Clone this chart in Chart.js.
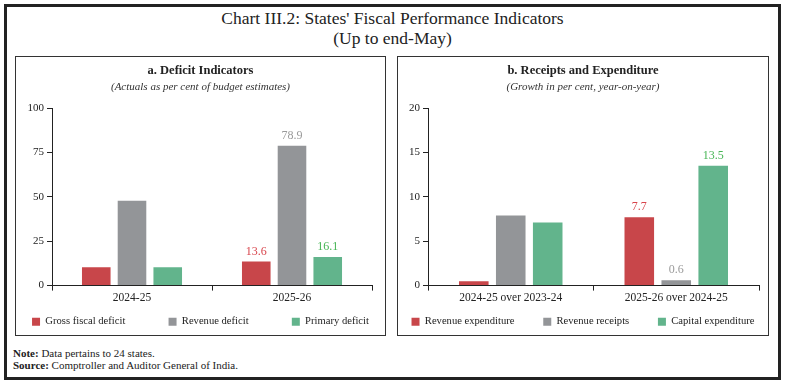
<!DOCTYPE html>
<html>
<head>
<meta charset="utf-8">
<script src="https://cdn.jsdelivr.net/npm/chart.js@4.4.0/dist/chart.umd.min.js"></script>
<style>
    body { margin: 0; background: #fff; font-family: 'Liberation Serif', serif; color: #222; }
    #frame { position: absolute; left: 4px; top: 4px; width: 771px; height: 370px; border: 3px solid #222; }
    #title { position: absolute; left: 0; top: 8px; width: 785px; text-align: center; font-size: 17.5px; line-height: 20px; }
    .panel { position: absolute; top: 56px; width: 369px; height: 278px; border: 1px solid #333; }
    #panelA { left: 15px; }
    #panelB { left: 397px; width: 370px; }
    .panel canvas { display: block; }
    #notes { position: absolute; left: 13px; top: 347px; font-size: 11px; line-height: 12px; }
</style>
</head>
<body>
<div id="frame"></div>
<div id="title">Chart III.2: States' Fiscal Performance Indicators<br>(Up to end-May)</div>
<div class="panel" id="panelA"><canvas id="deficitChart"></canvas></div>
<div class="panel" id="panelB"><canvas id="receiptsChart"></canvas></div>
<div id="notes"><b>Note:</b> Data pertains to 24 states.<br><b>Source:</b> Comptroller and Auditor General of India.</div>

<script>
// Panel a: deficit indicators (actuals as per cent of BE)
const deficitYears = ['2024-25', '2025-26'];
const grossFiscalDeficit = [10.3, 13.6];
const revenueDeficit = [47.8, 78.9];
const primaryDeficit = [10.3, 16.1];

// Panel b: receipts and expenditure (growth, y-o-y)
const growthPeriods = ['2024-25 over 2023-24', '2025-26 over 2024-25'];
const revenueExpenditure = [0.5, 7.7];
const revenueReceipts = [7.9, 0.6];
const capitalExpenditure = [7.1, 13.5];

const colors = {
    red: '#C8464A',
    gray: '#939598',
    green: '#62B48C',
    redText: '#D8444B',
    grayText: '#9A9A9A',
    greenText: '#46B554',
    axis: '#222222'
};

Chart.defaults.font.family = "'Liberation Serif', serif";
Chart.defaults.color = '#222';

// value labels only above the latest period's bars
const valueLabels = {
    id: 'valueLabels',
    afterDatasetsDraw(chart) {
        const ctx = chart.ctx;
        ctx.save();
        ctx.font = "12px 'Liberation Serif', serif";
        ctx.textAlign = 'center';
        ctx.textBaseline = 'bottom';
        chart.data.datasets.forEach((ds, i) => {
            const bar = chart.getDatasetMeta(i).data[1];
            ctx.fillStyle = ds.labelColor;
            ctx.fillText(ds.data[1].toFixed(1), bar.x, bar.y - 4);
        });
        ctx.restore();
    }
};

function makeChart(id, labels, series, yMax, yStep, yWidth, rightPad, spacer) {
    const names = series.map(s => s.label);
    return new Chart(document.getElementById(id), {
        type: 'bar',
        data: {
            labels: labels,
            datasets: series.map(s => ({
                label: s.label,
                data: s.data,
                backgroundColor: s.color,
                labelColor: s.text,
                categoryPercentage: 0.67,
                barPercentage: 0.8
            }))
        },
        options: {
            responsive: true,
            maintainAspectRatio: false,
            animation: false,
            layout: { padding: { left: 0, right: 0, top: 0, bottom: -2 } },
            plugins: {
                title: {
                    display: true,
                    text: series.title,
                    color: '#222',
                    font: { size: 12.5, weight: 'bold' },
                    padding: { top: 6, bottom: 3 }
                },
                subtitle: {
                    display: true,
                    text: series.subtitle,
                    color: '#333',
                    font: { size: 11, style: 'italic' },
                    padding: { bottom: 14 }
                },
                legend: {
                    position: 'bottom',
                    labels: {
                        boxWidth: 8,
                        boxHeight: 8,
                        padding: 4,
                        color: '#222',
                        font: { size: 10.6 },
                        generateLabels(chart) {
                            const items = Chart.defaults.plugins.legend.labels.generateLabels(chart);
                            items.forEach((it, i) => {
                                it.lineWidth = 0;
                                if (i < items.length - 1) it.text = names[i] + spacer;
                            });
                            return items;
                        }
                    }
                },
                tooltip: { enabled: false }
            },
            scales: {
                x: {
                    grid: { display: true, drawOnChartArea: false, drawTicks: true, tickLength: 5, color: colors.axis },
                    border: { color: colors.axis, width: 1 },
                    ticks: { color: '#222', font: { size: 11.5 }, padding: 0 },
                    afterFit(axis) { axis.height += 8; }
                },
                y: {
                    min: 0,
                    max: yMax,
                    ticks: { stepSize: yStep, color: '#222', font: { size: 11 }, padding: 3 },
                    grid: { drawOnChartArea: false, drawTicks: true, tickLength: 5, color: colors.axis },
                    border: { color: colors.axis, width: 1 },
                    afterFit(axis) { axis.width = yWidth; }
                },
                // empty right-hand axis, only reserves the margin so the legend stays centred in the panel
                yRight: {
                    type: 'linear',
                    position: 'right',
                    grid: { display: false },
                    border: { display: false },
                    ticks: { display: false },
                    afterFit(axis) { axis.width = rightPad; }
                }
            }
        },
        plugins: [valueLabels]
    });
}

const deficitSeries = [
    { label: 'Gross fiscal deficit', data: grossFiscalDeficit, color: colors.red, text: colors.redText },
    { label: 'Revenue deficit', data: revenueDeficit, color: colors.gray, text: colors.grayText },
    { label: 'Primary deficit', data: primaryDeficit, color: colors.green, text: colors.greenText }
];
deficitSeries.title = 'a. Deficit Indicators';
deficitSeries.subtitle = '(Actuals as per cent of budget estimates)';

const receiptsSeries = [
    { label: 'Revenue expenditure', data: revenueExpenditure, color: colors.red, text: colors.redText },
    { label: 'Revenue receipts', data: revenueReceipts, color: colors.gray, text: colors.grayText },
    { label: 'Capital expenditure', data: capitalExpenditure, color: colors.green, text: colors.greenText }
];
receiptsSeries.title = 'b. Receipts and Expenditure';
receiptsSeries.subtitle = '(Growth in per cent, year-on-year)';

makeChart('deficitChart', deficitYears, deficitSeries, 100, 25, 36, 13, '\u2003\u2003\u2003\u2002\u2009');
makeChart('receiptsChart', growthPeriods, receiptsSeries, 20, 5, 30, 9, '\u2003\u2003\u2004');
</script>
</body>
</html>
